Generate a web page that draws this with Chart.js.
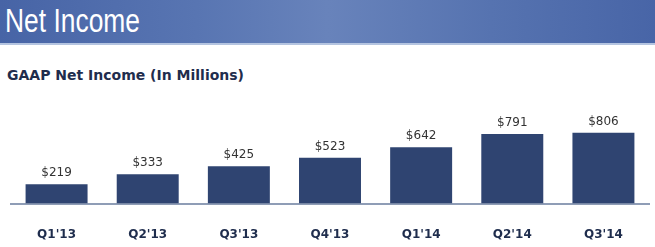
<!DOCTYPE html>
<html>
<head>
<meta charset="utf-8">
<script src="https://cdn.jsdelivr.net/npm/chart.js@4"></script>
<style>
  body { margin: 0; width: 655px; height: 247px; background: #fff; position: relative; overflow: hidden; }
  #band {
    position: absolute; left: 0; top: 0; width: 655px; height: 43px;
    background: linear-gradient(90deg, #4764a6 0%, #5875b2 30%, #6883bb 50%, #5673b0 75%, #4865a7 100%);
    border-bottom: 2px solid #b4c4e0;
  }
  #band span {
    position: absolute; left: 5px; top: 2px;
    font-family: "Liberation Sans", sans-serif;
    font-size: 33px; color: #fff;
    transform: scaleX(0.8); transform-origin: 0 0; white-space: nowrap;
  }
  #sub {
    position: absolute; left: 7px; top: 67px;
    font-family: "DejaVu Sans", sans-serif; font-weight: bold; font-size: 14px; color: #1f2d4d;
  }
  #incomeChart { position: absolute; left: 0; top: 100px; }
</style>
</head>
<body>
<div id="band"><span>Net Income</span></div>
<div id="sub">GAAP Net Income (In Millions)</div>
<canvas id="incomeChart" width="655" height="147"></canvas>
<script>
const quarters = ["Q1'13", "Q2'13", "Q3'13", "Q4'13", "Q1'14", "Q2'14", "Q3'14"];
const netIncome = [219, 333, 425, 523, 642, 791, 806];

// dollar labels above each bar
const valueLabels = {
  id: 'valueLabels',
  afterDatasetsDraw(chart) {
    const ctx = chart.ctx;
    const meta = chart.getDatasetMeta(0);
    ctx.save();
    ctx.font = '12px "DejaVu Sans", sans-serif';
    ctx.fillStyle = '#333';
    ctx.textAlign = 'center';
    ctx.textBaseline = 'middle';
    meta.data.forEach(function(bar, i) {
      ctx.fillText('$' + netIncome[i], bar.x, bar.y - 11);
    });
    ctx.restore();
  }
};

const incomeChart = new Chart(document.querySelector('#incomeChart'), {
  type: 'bar',
  data: {
    labels: quarters,
    datasets: [{
      data: netIncome,
      backgroundColor: '#2f4471',
      borderWidth: 0,
      categoryPercentage: 1,
      barPercentage: 0.68
    }]
  },
  options: {
    responsive: false,
    animation: false,
    layout: { padding: { left: 11, right: 6, top: 15.7, bottom: 5 } },
    plugins: { legend: { display: false }, tooltip: { enabled: false } },
    scales: {
      x: {
        grid: { display: false, drawTicks: false },
        border: { display: true, color: '#8f9db6', width: 2 },
        ticks: {
          padding: 24,
          color: '#1f2d4d',
          font: { family: '"DejaVu Sans", sans-serif', weight: 'bold', size: 12 }
        },
        afterFit(scale) { scale.height = 38.4; }
      },
      y: {
        display: false,
        min: 0,
        max: 1000
      }
    }
  },
  plugins: [valueLabels]
});
</script>
</body>
</html>
